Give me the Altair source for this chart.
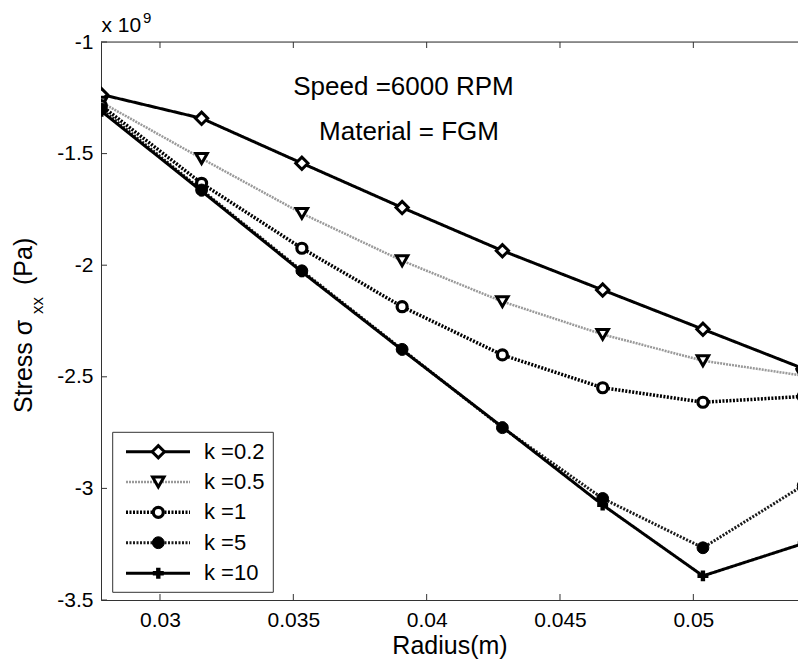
import altair as alt
import pandas as pd

# ---- data (stress in units of 1e9 Pa) ----
radius = [0.0278, 0.03156, 0.03532, 0.03908, 0.04284, 0.0466, 0.05036, 0.05412]
labels = ["k =0.2", "k =0.5", "k =1", "k =5", "k =10"]
stress_k02 = [-1.235, -1.342, -1.543, -1.742, -1.935, -2.111, -2.287, -2.463]
stress_k05 = [-1.270, -1.522, -1.768, -1.980, -2.163, -2.310, -2.428, -2.495]
stress_k1 = [-1.285, -1.633, -1.924, -2.186, -2.402, -2.549, -2.614, -2.588]
stress_k5 = [-1.300, -1.663, -2.025, -2.377, -2.728, -3.045, -3.266, -2.987]
stress_k10 = [-1.310, -1.668, -2.030, -2.380, -2.725, -3.074, -3.392, -3.247]
series = [stress_k02, stress_k05, stress_k1, stress_k5, stress_k10]
x_ticks = [0.03, 0.035, 0.04, 0.045, 0.05]
y_ticks = [-3.5, -3, -2.5, -2, -1.5, -1]

rows = []
for lab, vals in zip(labels, series):
    for r, s in zip(radius, vals):
        rows.append({"r": r, "s": s, "k": lab})
df = pd.DataFrame(rows)

W, H = 697, 558
FONT = "Liberation Sans"

xscale = alt.Scale(domain=[0.027788, 0.053925], nice=False, zero=False)
yscale = alt.Scale(domain=[-3.5, -1], nice=False, zero=False)

x_axis = alt.Axis(values=x_ticks, labelExpr="toString(datum.value)", title="Radius(m)",
                  tickSize=0, labelPadding=9, titlePadding=3, labelFontSize=21,
                  titleFontSize=25, titleFontWeight="normal", labelColor="black",
                  titleColor="black", domainColor="#333", grid=False,
                  labelFont=FONT, titleFont=FONT)
y_axis = alt.Axis(values=y_ticks, labelExpr="toString(datum.value)", title=None,
                  tickSize=0, labelPadding=8, labelFontSize=21, labelColor="black",
                  domainColor="#333", grid=False, labelFont=FONT)


def X(field):
    return alt.X(field, type="quantitative", scale=xscale, axis=x_axis)


def Y(field):
    return alt.Y(field, type="quantitative", scale=yscale, axis=y_axis)


styles = {
    "k =0.2": dict(color="black", dash=[1, 0], width=3, shape="diamond", fill="white", size=150, sw=3),
    "k =0.5": dict(color="#9a9a9a", dash=[2, 1], width=2.5, shape="triangle-down", fill="white", size=130, sw=3),
    "k =1": dict(color="black", dash=[2, 1.5], width=3.5, shape="circle", fill="white", size=100, sw=3.2),
    "k =5": dict(color="#1a1a1a", dash=[2, 1.5], width=3, shape="circle", fill="black", size=140, sw=1),
    "k =10": dict(color="black", dash=[1, 0], width=3, shape="cross", fill="black", size=120, sw=0),
}
legend_y = [409.7, 440, 470.3, 500.7, 531.3]

base = alt.Chart(df)
layers = []

# frame top line and inward ticks
one = pd.DataFrame({"d": [0]})
layers.append(alt.Chart(one).mark_rule(color="#333", strokeWidth=1).encode(
    x=alt.value(0), x2=alt.value(W), y=alt.value(0)))
xt = pd.DataFrame({"v": x_ticks})
yt = pd.DataFrame({"v": y_ticks})
layers.append(alt.Chart(xt).mark_rule(color="#333").encode(x=X("v"), y=alt.value(H), y2=alt.value(H - 6)))
layers.append(alt.Chart(xt).mark_rule(color="#333").encode(x=X("v"), y=alt.value(0), y2=alt.value(6)))
layers.append(alt.Chart(yt).mark_rule(color="#333").encode(y=Y("v"), x=alt.value(0), x2=alt.value(6)))

# series lines
for lab in labels:
    st = styles[lab]
    layers.append(base.transform_filter(alt.datum.k == lab).mark_line(
        clip=True, color=st["color"], strokeDash=st["dash"], strokeWidth=st["width"]
    ).encode(x=X("r"), y=Y("s"), order="r:Q"))

# markers
for lab in labels:
    st = styles[lab]
    layers.append(base.transform_filter(alt.datum.k == lab).mark_point(
        clip=True, shape=st["shape"], filled=True, fill=st["fill"], stroke="black",
        strokeWidth=st["sw"], size=st["size"], opacity=1
    ).encode(x=X("r"), y=Y("s")))

# legend box
layers.append(alt.Chart(one).mark_rect(fill="white", stroke="#333", strokeWidth=1).encode(
    x=alt.value(11.7), x2=alt.value(172.3), y=alt.value(390.3), y2=alt.value(550.3)))
for lab, ly in zip(labels, legend_y):
    st = styles[lab]
    ldf = pd.DataFrame({"k": [lab]})
    lc = alt.Chart(ldf)
    layers.append(lc.mark_rule(color=st["color"], strokeDash=st["dash"], strokeWidth=st["width"]).encode(
        x=alt.value(25), x2=alt.value(89), y=alt.value(ly)))
    layers.append(lc.mark_point(shape=st["shape"], filled=True, fill=st["fill"], stroke="black",
                                strokeWidth=st["sw"], size=st["size"], opacity=1).encode(
        x=alt.value(57.3), y=alt.value(ly)))
    layers.append(lc.mark_text(align="left", baseline="middle", font=FONT, fontSize=22, color="black").encode(
        x=alt.value(103), y=alt.value(ly), text="k:N"))

# annotations
layers.append(alt.Chart(pd.DataFrame({"t": ["Speed =6000 RPM"]})).mark_text(
    font=FONT, fontSize=26, color="black", align="center", baseline="middle").encode(
    x=alt.value(302.5), y=alt.value(45), text="t:N"))
layers.append(alt.Chart(pd.DataFrame({"t": ["Material = FGM"]})).mark_text(
    font=FONT, fontSize=26, color="black", align="center", baseline="middle").encode(
    x=alt.value(308), y=alt.value(90), text="t:N"))

# exponent label
layers.append(alt.Chart(pd.DataFrame({"t": ["x 10"]})).mark_text(
    font=FONT, fontSize=21, color="black", align="left", baseline="alphabetic").encode(
    x=alt.value(0.5), y=alt.value(-10), text="t:N"))
layers.append(alt.Chart(pd.DataFrame({"t": ["9"]})).mark_text(
    font=FONT, fontSize=15, color="black", align="left", baseline="alphabetic").encode(
    x=alt.value(42), y=alt.value(-19), text="t:N"))

# y axis title with subscript
layers.append(alt.Chart(pd.DataFrame({"t": ["Stress σ"]})).mark_text(
    font=FONT, fontSize=25, color="black", align="left", baseline="alphabetic", angle=270).encode(
    x=alt.value(-69), y=alt.value(371), text="t:N"))
layers.append(alt.Chart(pd.DataFrame({"t": ["xx"]})).mark_text(
    font=FONT, fontSize=17, color="black", align="left", baseline="alphabetic", angle=270).encode(
    x=alt.value(-58), y=alt.value(272), text="t:N"))
layers.append(alt.Chart(pd.DataFrame({"t": ["(Pa)"]})).mark_text(
    font=FONT, fontSize=25, color="black", align="left", baseline="alphabetic", angle=270).encode(
    x=alt.value(-69), y=alt.value(243), text="t:N"))

chart = alt.layer(*layers).properties(
    width=W, height=H,
    padding={"left": 101, "top": 42, "right": 0, "bottom": 62},
    autosize=alt.AutoSizeParams(type="none"),
).configure_view(stroke=None).configure(background="white")

chart.save("out.html", embed_options={"renderer": "svg", "actions": False})
